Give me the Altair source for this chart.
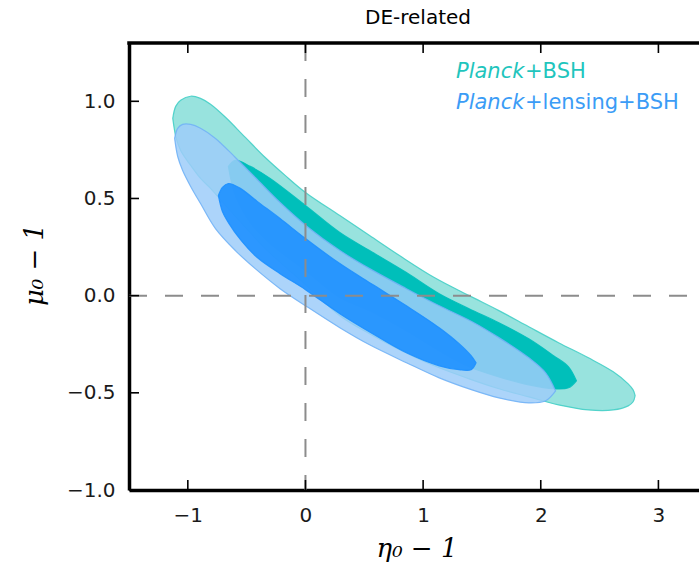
import altair as alt
import pandas as pd

# ---------------- data ----------------
# Planck+BSH, outer (95%) contour: x, upper edge, lower edge
c95_x  = [-1.128, -1.103, -1.061, -0.976, -0.892, -0.807, -0.680, -0.511, -0.342, -0.173, 0.000,
          0.292, 0.545, 0.799, 1.095, 1.391, 1.644, 1.898, 2.151, 2.405, 2.616, 2.743, 2.785, 2.802]
c95_hi = [0.912, 0.974, 1.005, 1.026, 1.015, 0.985, 0.918, 0.814, 0.711, 0.619, 0.531,
          0.412, 0.309, 0.206, 0.093, 0.000, -0.077, -0.160, -0.242, -0.320, -0.392, -0.454, -0.485, -0.515]
c95_lo = [0.912, 0.820, 0.747, 0.670, 0.603, 0.552, 0.464, 0.351, 0.242, 0.149, 0.057,
          -0.103, -0.196, -0.278, -0.361, -0.428, -0.479, -0.521, -0.562, -0.588, -0.588, -0.567, -0.546, -0.515]

# Planck+BSH, inner (68%) contour
c68_x  = [-0.655, -0.596, -0.469, -0.300, 0.000, 0.292, 0.545, 0.858, 1.137, 1.391, 1.644, 1.898, 2.109, 2.236, 2.303]
c68_hi = [0.665, 0.696, 0.665, 0.603, 0.464, 0.325, 0.232, 0.119, 0.010, -0.067, -0.139, -0.222, -0.309, -0.366, -0.438]
c68_lo = [0.665, 0.515, 0.376, 0.268, 0.129, -0.010, -0.077, -0.180, -0.284, -0.366, -0.418, -0.459, -0.479, -0.474, -0.438]

# Planck+lensing+BSH, outer (95%) contour
b95_x  = [-1.112, -1.086, -1.044, -0.976, -0.892, -0.765, -0.596, -0.427, -0.216, 0.013,
          0.292, 0.545, 0.858, 1.137, 1.416, 1.644, 1.898, 2.041, 2.126]
b95_hi = [0.809, 0.861, 0.881, 0.881, 0.861, 0.809, 0.711, 0.608, 0.479, 0.356,
          0.232, 0.139, 0.036, -0.052, -0.134, -0.216, -0.320, -0.397, -0.490]
b95_lo = [0.809, 0.716, 0.644, 0.562, 0.474, 0.345, 0.232, 0.139, 0.036, -0.057,
          -0.165, -0.253, -0.345, -0.423, -0.485, -0.526, -0.552, -0.541, -0.490]

# Planck+lensing+BSH, inner (68%) contour
b68_x  = [-0.740, -0.706, -0.655, -0.554, -0.410, -0.216, 0.000, 0.292, 0.571, 0.858, 1.137, 1.306, 1.408, 1.450]
b68_hi = [0.515, 0.557, 0.577, 0.552, 0.485, 0.397, 0.294, 0.165, 0.057, -0.052, -0.165, -0.247, -0.309, -0.345]
b68_lo = [0.515, 0.433, 0.376, 0.289, 0.196, 0.113, 0.031, -0.093, -0.196, -0.294, -0.361, -0.381, -0.381, -0.345]

x_ticks = [-1, 0, 1, 2, 3]
y_ticks = [-1.0, -0.5, 0.0, 0.5, 1.0]
ref_lines = [0]

# ---------------- layout ----------------
W, H = 570, 447
xs = alt.Scale(domain=[-1.5, 3.345], nice=False, zero=False)
ys = alt.Scale(domain=[-1.0, 1.3], nice=False, zero=False)
LABEL_FONT = "DejaVu Sans"

x_axis = alt.Axis(values=x_ticks, format="d", ticks=False, tickSize=0, grid=False,
                  domain=True, domainColor="black", domainWidth=3.5,
                  labelFont=LABEL_FONT, labelFontSize=20, labelColor="#1a1a1a",
                  labelPadding=15, title=None)
y_axis = alt.Axis(values=y_ticks, format=".1f", ticks=False, tickSize=0, grid=False,
                  domain=True, domainColor="black", domainWidth=3.5,
                  labelFont=LABEL_FONT, labelFontSize=20, labelColor="#1a1a1a",
                  labelPadding=14, title=None)


def band(xv, hi, lo, fill, stroke, opacity):
    df = pd.DataFrame({"x": xv, "hi": hi, "lo": lo})
    return alt.Chart(df).mark_area(
        fill=fill, stroke=stroke, strokeWidth=1.2, fillOpacity=opacity,
        strokeOpacity=0.9, interpolate="catmull-rom"
    ).encode(
        x=alt.X("x:Q", scale=xs, axis=x_axis),
        y=alt.Y("hi:Q", scale=ys, axis=y_axis),
        y2="lo:Q",
    )


c95 = band(c95_x, c95_hi, c95_lo, "#98e3de", "#45cfc6", 1.0)
c68 = band(c68_x, c68_hi, c68_lo, "#00bfba", "#00bfba", 1.0)
b95 = band(b95_x, b95_hi, b95_lo, "#9dccf9", "#72b3f6", 0.85)
b68 = band(b68_x, b68_hi, b68_lo, "#1e90ff", "#1e90ff", 0.9)

ref_df = pd.DataFrame({"x": ref_lines, "hi": ref_lines})
vline = alt.Chart(ref_df).mark_rule(color="#8c8c8c", strokeWidth=2, strokeDash=[18, 18]).encode(
    x=alt.X("x:Q", scale=xs, axis=x_axis), y=alt.value(0), y2=alt.value(H))
hline = alt.Chart(ref_df).mark_rule(color="#8c8c8c", strokeWidth=2, strokeDash=[18, 18]).encode(
    y=alt.Y("hi:Q", scale=ys, axis=y_axis), x=alt.value(0), x2=alt.value(W))

one = pd.DataFrame({"a": [0]})
top_border = alt.Chart(one).mark_rule(color="black", strokeWidth=3.5).encode(
    x=alt.value(-1.75), x2=alt.value(W), y=alt.value(0))

xt = pd.DataFrame({"x": x_ticks})
yt = pd.DataFrame({"hi": y_ticks})
ticks_bottom = alt.Chart(xt).mark_rule(color="black", strokeWidth=1.6).encode(
    x=alt.X("x:Q", scale=xs, axis=x_axis), y=alt.value(H), y2=alt.value(H - 10))
ticks_top = alt.Chart(xt).mark_rule(color="black", strokeWidth=1.6).encode(
    x=alt.X("x:Q", scale=xs, axis=x_axis), y=alt.value(0), y2=alt.value(10))
ticks_left = alt.Chart(yt).mark_rule(color="black", strokeWidth=1.6).encode(
    y=alt.Y("hi:Q", scale=ys, axis=y_axis), x=alt.value(0), x2=alt.value(10))


def label(text, x, y, size, color="black", style="normal", font=LABEL_FONT, angle=0, align="left"):
    return alt.Chart(one).mark_text(
        text=text, font=font, fontSize=size, fontStyle=style, color=color,
        align=align, baseline="middle", angle=angle
    ).encode(x=alt.value(x), y=alt.value(y))


title = label("DE-related", 289, -25, 20, align="center")
xtitle = label("η₀ − 1", 288, 506, 26, font="DejaVu Serif", style="italic", align="center")
ytitle = label("μ₀ − 1", -94, 222, 26, font="DejaVu Serif", style="italic", align="center", angle=270)

CYAN_TXT = "#1fc5bd"
BLUE_TXT = "#3b9cf6"
leg1a = label("Planck", 327, 29, 21, CYAN_TXT, "italic")
leg1b = label("+BSH", 396, 29, 21, CYAN_TXT)
leg2a = label("Planck", 327, 60, 21, BLUE_TXT, "italic")
leg2b = label("+lensing+BSH", 396, 60, 21, BLUE_TXT)

chart = alt.layer(
    c95, c68, b95, b68, vline, hline, top_border, ticks_bottom, ticks_top, ticks_left,
    title, xtitle, ytitle, leg1a, leg1b, leg2a, leg2b
).properties(
    width=W, height=H,
    padding={"left": 129, "top": 43, "right": 0, "bottom": 84},
    autosize=alt.AutoSizeParams(type="none"),
    background="white",
).configure_view(stroke=None)

chart.save("out.html", embed_options={"renderer": "svg", "actions": False})
